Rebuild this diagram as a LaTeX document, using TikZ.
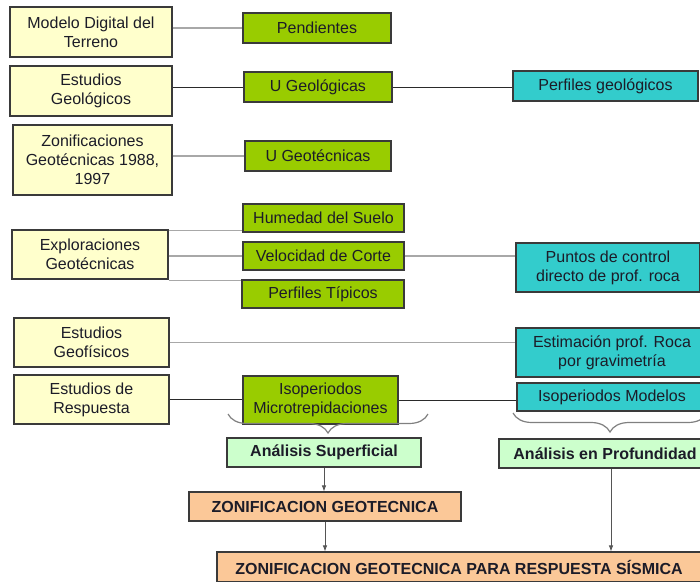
\documentclass[tikz,border=0pt]{standalone}
\usepackage{fontspec}
\setmainfont{Liberation Sans}
\usetikzlibrary{decorations.pathreplacing,arrows.meta}
\definecolor{yelF}{HTML}{FFFFCC}
\definecolor{grnF}{HTML}{99CC00}
\definecolor{cyaF}{HTML}{33CCCC}
\definecolor{lgrF}{HTML}{CCFFCC}
\definecolor{orgF}{HTML}{FBC898}
\definecolor{edgeC}{HTML}{3A3A3A}
\definecolor{glineC}{HTML}{A8A8A8}
\definecolor{dlineC}{HTML}{2A2A2A}
\definecolor{braceC}{HTML}{808080}
\definecolor{txtC}{HTML}{1C1C28}
\begin{document}
\begin{tikzpicture}[x=1pt,y=-1pt,
  box/.style={draw=edgeC,line width=1.1pt,inner sep=0pt,align=center,text=txtC,
    font=\fontsize{16}{19}\selectfont},
  yel/.style={box,fill=yelF},
  grn/.style={box,fill=grnF},
  cya/.style={box,fill=cyaF},
  lgr/.style={box,fill=lgrF,font=\fontsize{16}{19}\selectfont\bfseries},
  org/.style={box,fill=orgF,font=\fontsize{16}{19}\selectfont\bfseries},
  gline/.style={draw=glineC,line width=1.8pt},
  dline/.style={draw=dlineC,line width=1pt},
  bracecurl/.style={draw=braceC,line width=1.2pt,decorate,decoration={brace,amplitude=19pt,aspect=0.5}},
  arr/.style={draw=dlineC!80,line width=0.8pt,-{Latex[length=6pt,width=4.5pt]}}
]
\useasboundingbox (0,0) rectangle (700,581);
\clip (0,0) rectangle (700,581);
\fill[white] (0,0) rectangle (700,581);

% left column
\node[yel,minimum width=162pt,minimum height=50pt] (mdt) at (91,32) {Modelo Digital del\\Terreno};
\node[yel,minimum width=162pt,minimum height=50pt] (egeo) at (91,91) {Estudios\\Geológicos};
\node[yel,minimum width=159pt,minimum height=70pt] (zon) at (92.5,160) {Zonificaciones\\Geotécnicas 1988,\\1997};
\node[yel,minimum width=156pt,minimum height=49pt] (expl) at (90,254.5) {Exploraciones\\Geotécnicas};
\node[yel,minimum width=155pt,minimum height=49pt] (geof) at (91.5,342.5) {Estudios\\Geofísicos};
\node[yel,minimum width=155pt,minimum height=49pt] (resp) at (91.5,399.5) {Estudios de\\Respuesta};

% middle column
\node[grn,minimum width=148pt,minimum height=30pt] (pend) at (317,28) {Pendientes};
\node[grn,minimum width=148pt,minimum height=30pt] (ugeol) at (318,87) {U Geológicas};
\node[grn,minimum width=146pt,minimum height=30pt] (ugeot) at (318,156) {U Geotécnicas};
\node[grn,minimum width=161pt,minimum height=28pt] (hum) at (323.5,218) {Humedad del Suelo};
\node[grn,minimum width=161pt,minimum height=28pt] (vel) at (323.5,256) {Velocidad de Corte};
\node[grn,minimum width=162pt,minimum height=28pt] (ptip) at (323,294) {Perfiles Típicos};
\node[grn,minimum width=155pt,minimum height=48pt] (isomic) at (320.5,400) {Isoperiodos\\Microtrepidaciones};

% right column
\node[cya,minimum width=185pt,minimum height=30pt] (pgeol) at (605.5,86) {Perfiles geológicos};
\node[cya,minimum width=184pt,minimum height=49pt] (puntos) at (608,267.5) {Puntos de control\\directo de prof. roca};
\node[cya,minimum width=192pt,minimum height=49pt] (estim) at (612,352.5) {Estimación prof. Roca\\por gravimetría};
\node[cya,minimum width=190pt,minimum height=28pt] (isomod) at (612,397) {Isoperiodos Modelos};

% analysis and results
\node[lgr,minimum width=194pt,minimum height=29pt] (asup) at (324,452.5) {Análisis Superficial};
\node[lgr,minimum width=212pt,minimum height=29pt] (aprof) at (605,453.5) {Análisis en Profundidad};
\node[org,minimum width=272pt,minimum height=29pt] (zg) at (325,506.5) {ZONIFICACION GEOTECNICA};
\node[org,minimum width=484pt,minimum height=30pt] (zgr) at (459,567) {ZONIFICACION GEOTECNICA PARA RESPUESTA SÍSMICA};

% connectors
\draw[gline] (mdt.east |- pend.west) -- (pend.west);
\draw[dline] (egeo.east |- ugeol.west) -- (ugeol.west);
\draw[dline] (ugeol.east) -- (ugeol.east -| pgeol.west);
\draw[gline] (zon.east |- ugeot.west) -- (ugeot.west);
\draw[gline] ([yshift=-1pt]expl.north east) -- ([yshift=-1pt]expl.north east -| hum.west);
\draw[gline] (expl.east |- vel.west) -- (vel.west);
\draw[gline] ([yshift=-1pt]expl.south east) -- ([yshift=-1pt]expl.south east -| ptip.west);
\draw[gline] (vel.east) -- (vel.east -| puntos.west);
\draw[gline] (geof.east) -- (geof.east -| estim.west);
\draw[dline] (resp.east) -- (resp.east -| isomic.west);
\draw[dline] (isomic.east) -- (isomic.east -| isomod.west);

% braces
\coordinate (b1r) at (428,414);
\coordinate (b1l) at (228,414);
\coordinate (b2r) at (707,413);
\coordinate (b2l) at (513,413);
\draw[bracecurl] (b1r) -- (b1l);
\draw[bracecurl] (b2r) -- (b2l);

% arrows
\draw[arr] (asup.south) -- (asup.south |- zg.north);
\draw[arr] (zg.south) -- (zg.south |- zgr.north);
\draw[arr] ([xshift=6pt]aprof.south) -- ([xshift=6pt]aprof.south |- zgr.north);
\end{tikzpicture}
\end{document}
